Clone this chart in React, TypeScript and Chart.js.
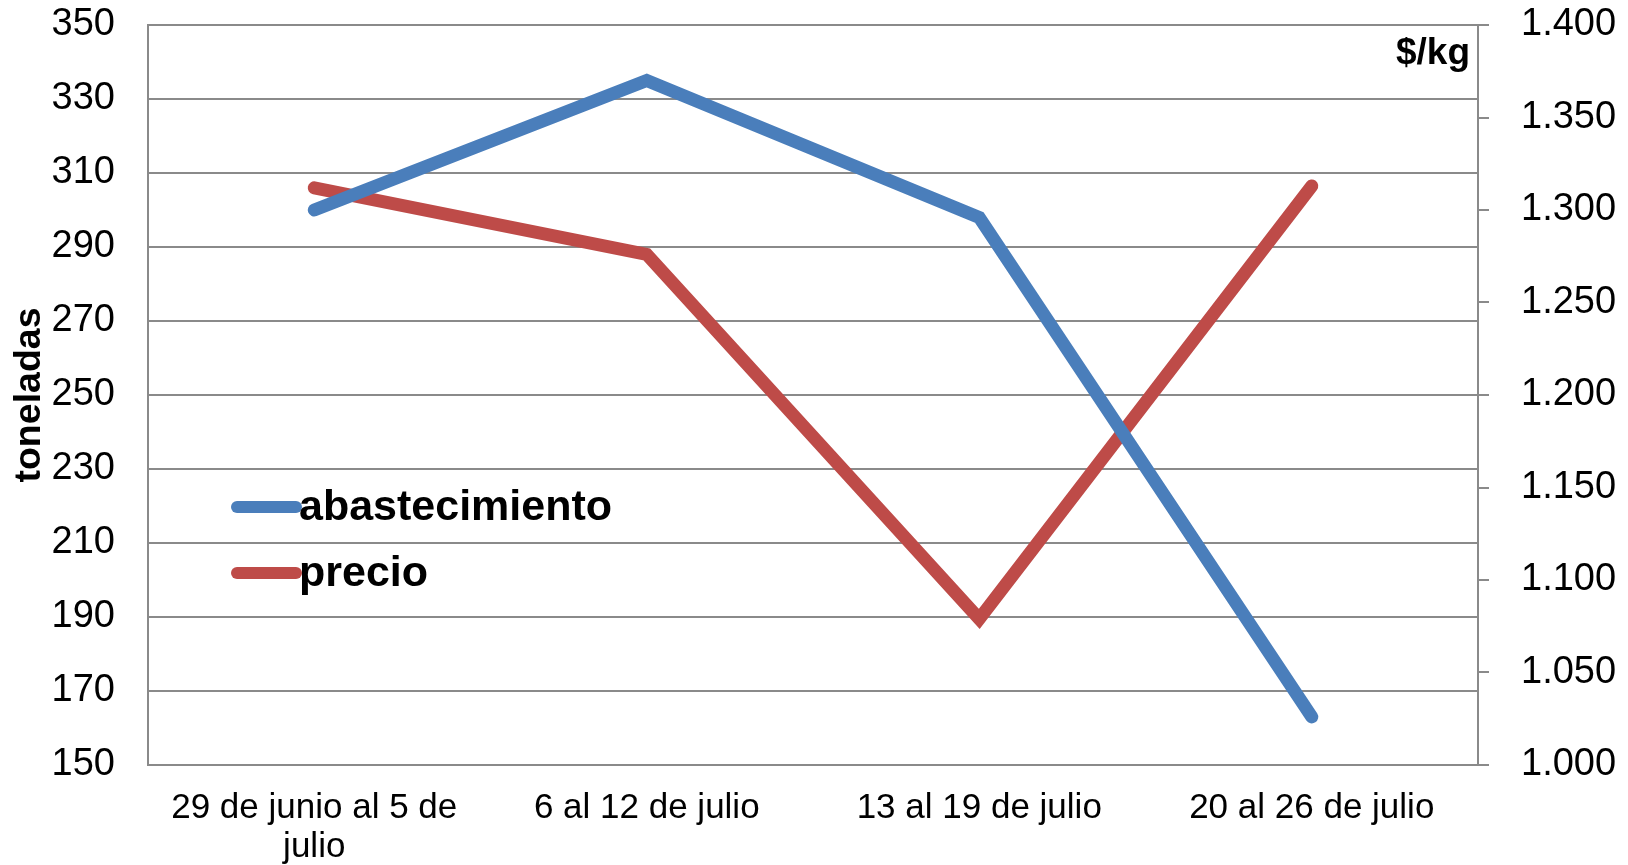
import React, { useEffect, useRef } from "react";
import { Chart, registerables } from "chart.js";

Chart.register(...registerables);

const categories: (string | string[])[] = [
  ["29 de junio al 5 de", "julio"],
  "6 al 12 de julio",
  "13 al 19 de julio",
  "20 al 26 de julio",
];
const abastecimiento = [300, 335, 298, 163];
const precio = [1.312, 1.276, 1.079, 1.313];
const seriesNames = ["abastecimiento", "precio"];
const leftTitle = "toneladas";
const rightUnit = "$/kg";

const BLUE = "#4a7ebb";
const RED = "#be4b48";
const GRID = "#8a8a8a";
const FONT = "'Liberation Sans', Arial, sans-serif";

const overlayPlugin = {
  id: "overlay",
  afterDraw(chart: any) {
    const { ctx, chartArea } = chart;
    ctx.save();
    const colors = [BLUE, RED];
    const ys = [chartArea.top + 482, chartArea.top + 548];
    seriesNames.forEach((name, i) => {
      const y = ys[i];
      ctx.strokeStyle = colors[i];
      ctx.lineWidth = 12;
      ctx.lineCap = "round";
      ctx.beginPath();
      ctx.moveTo(chartArea.left + 89, y);
      ctx.lineTo(chartArea.left + 148, y);
      ctx.stroke();
      ctx.fillStyle = "#000";
      ctx.font = `bold 43px ${FONT}`;
      ctx.textAlign = "left";
      ctx.textBaseline = "middle";
      ctx.fillText(name, chartArea.left + 151, y + 1);
    });
    ctx.font = `bold 37px ${FONT}`;
    ctx.textAlign = "right";
    ctx.textBaseline = "middle";
    ctx.fillStyle = "#000";
    ctx.fillText(rightUnit, chartArea.right - 8, chartArea.top + 29);
    ctx.restore();
  },
};

export default function App() {
  const ref = useRef<HTMLCanvasElement | null>(null);
  useEffect(() => {
    if (!ref.current) return;
    const chart = new Chart(ref.current, {
      type: "line",
      data: {
        labels: categories as any,
        datasets: [
          {
            label: seriesNames[0],
            data: abastecimiento,
            yAxisID: "y",
            borderColor: BLUE,
            backgroundColor: BLUE,
            borderWidth: 13,
            borderCapStyle: "round",
            borderJoinStyle: "miter",
            pointRadius: 0,
            tension: 0,
          },
          {
            label: seriesNames[1],
            data: precio,
            yAxisID: "y1",
            borderColor: RED,
            backgroundColor: RED,
            borderWidth: 13,
            borderCapStyle: "round",
            borderJoinStyle: "miter",
            pointRadius: 0,
            tension: 0,
          },
        ],
      },
      options: {
        responsive: false,
        animation: false,
        devicePixelRatio: 1,
        layout: { padding: { top: 25, bottom: 0, left: 0, right: 0 } },
        plugins: {
          legend: { display: false },
          tooltip: { enabled: false },
        },
        scales: {
          x: {
            offset: true,
            grid: { display: false, drawTicks: false },
            border: { display: true, color: GRID, width: 2 },
            ticks: {
              color: "#000",
              font: { family: FONT, size: 35, lineHeight: 1.12 },
              padding: 24,
              maxRotation: 0,
              autoSkip: false,
            },
            afterFit(scale: any) {
              scale.height = 100;
              scale.paddingLeft = 0;
              scale.paddingRight = 0;
            },
          },
          y: {
            position: "left",
            min: 150,
            max: 350,
            ticks: {
              stepSize: 20,
              color: "#000",
              font: { family: FONT, size: 38 },
              padding: 33,
            },
            grid: { color: GRID, lineWidth: 2, drawTicks: false },
            border: { display: true, color: GRID, width: 2 },
            title: {
              display: true,
              text: leftTitle,
              color: "#000",
              font: { family: FONT, size: 37.5, weight: "bold" },
              padding: { top: 7, bottom: 0 },
            },
            afterFit(scale: any) {
              scale.width = 148;
              scale.paddingTop = 0;
              scale.paddingBottom = 0;
            },
          },
          y1: {
            position: "right",
            min: 1.0,
            max: 1.4,
            ticks: {
              stepSize: 0.05,
              color: "#000",
              font: { family: FONT, size: 38 },
              padding: 32,
              callback: (v: any) => Number(v).toFixed(3),
            },
            grid: {
              drawOnChartArea: false,
              drawTicks: true,
              tickLength: 11,
              color: GRID,
              lineWidth: 2,
            },
            border: { display: true, color: GRID, width: 2 },
            afterFit(scale: any) {
              scale.width = 150;
              scale.paddingTop = 0;
              scale.paddingBottom = 0;
            },
          },
        },
      },
      plugins: [overlayPlugin],
    });
    return () => chart.destroy();
  }, []);
  return (
    <div style={{ position: "absolute", left: 0, top: 0, width: 1628, height: 865, background: "#fff" }}>
      <canvas ref={ref} width={1628} height={865} />
    </div>
  );
}
